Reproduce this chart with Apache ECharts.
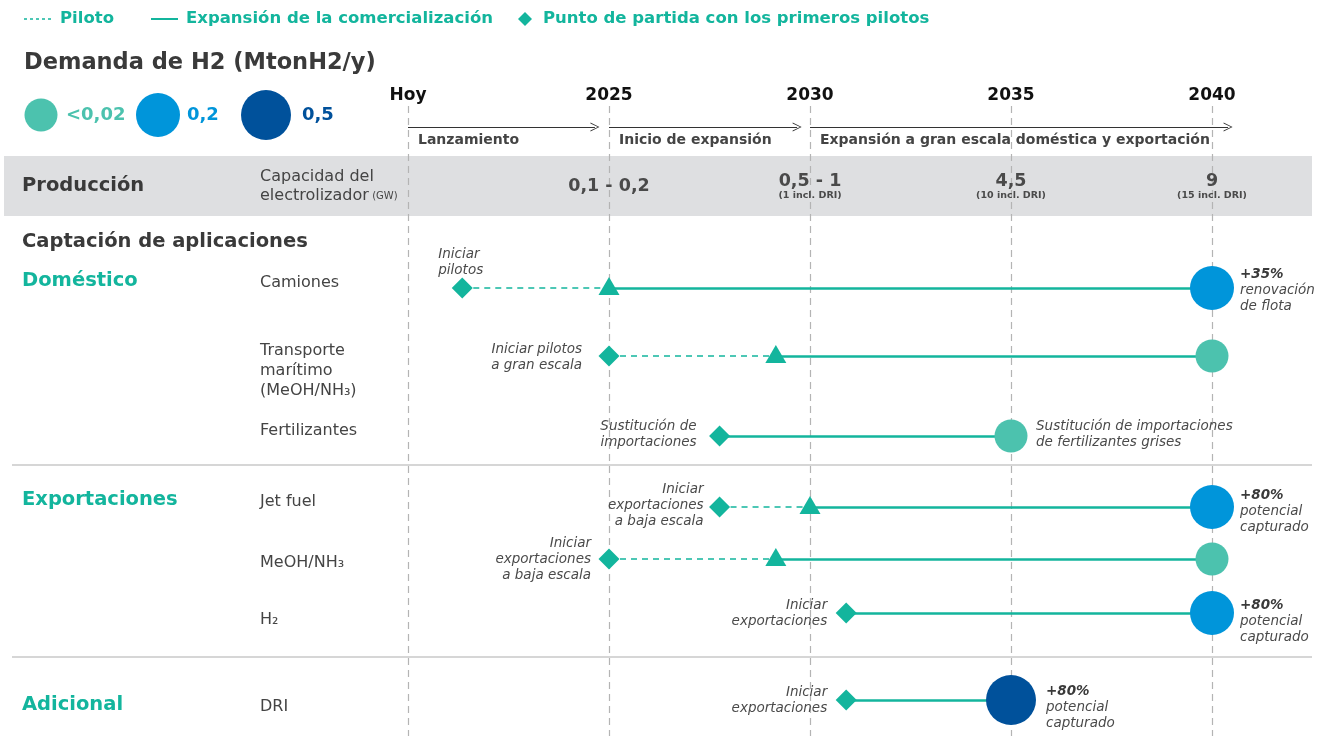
<!DOCTYPE html>
<html>
<head>
<meta charset="utf-8">
<script src="https://cdn.jsdelivr.net/npm/echarts@6/dist/echarts.min.js"></script>
<style>
html, body { margin: 0; padding: 0; background: #fff; }
#chart { width: 1323px; height: 736px; }
</style>
</head>
<body>
<div id="chart"></div>
<script>
// hoja de ruta del H2: filas, años de inicio piloto / expansión / meta y demanda
var rows = ['Camiones', 'Transporte marítimo', 'Fertilizantes', 'Jet fuel', 'MeOH/NH3', 'H2', 'DRI'];
var startYear = [2021.35, 2025, 2027.75, 2027.75, 2025, 2030.9, 2030.9];   // rombo
var scaleYear = [2025, 2029.15, null, 2030, 2029.15, null, null];          // triángulo
var endYear = [2040, 2040, 2035, 2040, 2040, 2040, 2035];                 // burbuja
var demand = [0.2, 0.02, 0.02, 0.2, 0.02, 0.2, 0.5];

var yearTicks = [2020, 2025, 2030, 2035, 2040];
var yearLabels = ['Hoy', '2025', '2030', '2035', '2040'];
var capacity = ['', '0,1 - 0,2', '0,5 - 1', '4,5', '9'];
var capacityNote = ['', '', '(1 incl. DRI)', '(10 incl. DRI)', '(15 incl. DRI)'];

var phaseStart = [2020, 2025, 2030];
var phaseEnd = [2024.65, 2029.68, 2040.4];
var phaseLabels = ['Lanzamiento', 'Inicio de expansión', 'Expansión a gran escala doméstica y exportación'];

var demandLevels = [0.02, 0.2, 0.5];
var demandLabels = ['<0,02', '0,2', '0,5'];

var startNotes = ['Iniciar\npilotos', 'Iniciar pilotos\na gran escala', 'Sustitución de\nimportaciones',
    'Iniciar\nexportaciones\na baja escala', 'Iniciar\nexportaciones\na baja escala',
    'Iniciar\nexportaciones', 'Iniciar\nexportaciones'];
var endNotes = ['{b|+35%}\nrenovación\nde flota', '', 'Sustitución de importaciones\nde fertilizantes grises',
    '{b|+80%}\npotencial\ncapturado', '', '{b|+80%}\npotencial\ncapturado', '{b|+80%}\npotencial\ncapturado'];

// layout (pixeles verticales del lienzo)
var rowY = [288, 356, 436, 507, 559, 613, 700];
var startNoteOff = [[-24, -26, 'left'], [-27, 1, 'right'], [-23, -2, 'right'], [-16, -2, 'right'],
    [-18, 0, 'right'], [-19, 0, 'right'], [-19, 0, 'right']];
var endNoteOff = [[28, 2], [0, 0], [25, -2], [28, 4], [0, 0], [28, 8], [35, 7]];

var TEAL = '#13b59d', LIGHT = '#4cc2ae', BLUE = '#0095da', DARK = '#00519b';
var GREY_TXT = '#444444';
var FONT = "'DejaVu Sans', sans-serif";
var bubbleSize = {0.02: 33, 0.2: 44, 0.5: 50};
var bubbleColor = {0.02: LIGHT, 0.2: BLUE, 0.5: DARK};

var X_MIN = 2020 - 408 / 40.2;
var X_MAX = X_MIN + 1323 / 40.2;

var chart = echarts.init(document.getElementById('chart'));

function $extend(a, b) { for (var k in b) a[k] = b[k]; return a; }
function textSeries(items, style) {
    return {
        type: 'scatter', silent: true, symbolSize: 0, z: 10,
        itemStyle: {opacity: 1},
        data: items,
        label: $extend({show: true, position: 'inside', formatter: '{b}', fontFamily: FONT, opacity: 1}, style)
    };
}

var pilotLines = [], expLines = [], diamonds = [], triangles = [], bubbles = [];
for (var i = 0; i < rows.length; i++) {
    var y = rowY[i];
    if (scaleYear[i] != null) {
        pilotLines.push({coords: [[startYear[i], y], [scaleYear[i], y]]});
        triangles.push([scaleYear[i], y]);
    }
    expLines.push({coords: [[scaleYear[i] != null ? scaleYear[i] : startYear[i], y], [endYear[i], y]]});
    diamonds.push({
        value: [startYear[i], y],
        label: {show: true, formatter: startNotes[i], position: 'inside', align: startNoteOff[i][2],
            offset: [startNoteOff[i][0], startNoteOff[i][1]]}
    });
    bubbles.push({
        value: [endYear[i], y, demand[i]],
        label: {show: !!endNotes[i], formatter: endNotes[i], position: 'inside', align: 'left',
            offset: [endNoteOff[i][0], endNoteOff[i][1]]}
    });
}

var noteLabel = {fontFamily: FONT, fontStyle: 'italic', fontSize: 13.5, color: '#4a4a4a', lineHeight: 16,
    verticalAlign: 'middle',
    rich: {b: {fontFamily: FONT, fontStyle: 'italic', fontWeight: 'bold', fontSize: 13.5, color: '#3a3a3a', lineHeight: 16}}};

var yearItems = [], capItems = [], noteItems = [], phaseItems = [], grid = [], arrows = [];
for (var j = 0; j < yearTicks.length; j++) {
    yearItems.push({name: yearLabels[j], value: [yearTicks[j], 96]});
    if (capacity[j]) capItems.push({name: capacity[j], value: [yearTicks[j], capacityNote[j] ? 181 : 186]});
    if (capacityNote[j]) noteItems.push({name: capacityNote[j], value: [yearTicks[j], 196]});
    grid.push({coords: [[yearTicks[j], 106], [yearTicks[j], 736]]});
}
for (var k = 0; k < phaseStart.length; k++) {
    phaseItems.push({name: phaseLabels[k], value: [phaseStart[k], 140]});
    arrows.push({coords: [[phaseStart[k], 127], [phaseEnd[k], 127]]});
}

var option = {
    backgroundColor: '#ffffff',
    animation: false,
    grid: {left: 0, right: 0, top: 0, bottom: 0},
    xAxis: {type: 'value', min: X_MIN, max: X_MAX, show: false},
    yAxis: {type: 'value', min: 0, max: 736, inverse: true, show: false},
    series: [
        {   // líneas verticales de año
            type: 'lines', coordinateSystem: 'cartesian2d', silent: true, z: 1,
            lineStyle: {color: '#b4b4b4', width: 1.2, type: [7, 5], opacity: 1},
            data: grid
        },
        {   // flechas de fase
            type: 'lines', coordinateSystem: 'cartesian2d', silent: true, z: 3,
            symbol: ['none', 'path://M0,10 L5,0 L10,10 L9,10 L5,1.8 L1,10 Z'], symbolSize: 9,
            lineStyle: {color: '#333333', width: 1, opacity: 1},
            data: arrows
        },
        {   // piloto
            type: 'lines', coordinateSystem: 'cartesian2d', silent: true, z: 3,
            lineStyle: {color: TEAL, width: 1.5, type: [6, 5], opacity: 1},
            data: pilotLines
        },
        {   // expansión
            type: 'lines', coordinateSystem: 'cartesian2d', silent: true, z: 3,
            lineStyle: {color: TEAL, width: 2.5, opacity: 1},
            data: expLines
        },
        {
            type: 'scatter', symbol: 'diamond', symbolSize: 21, z: 5,
            itemStyle: {color: TEAL, opacity: 1},
            label: noteLabel,
            data: diamonds
        },
        {
            type: 'scatter', symbol: 'triangle', symbolSize: [21, 18], symbolOffset: [0, -2], z: 5,
            itemStyle: {color: TEAL, opacity: 1},
            data: triangles
        },
        {
            type: 'scatter', z: 6,
            symbolSize: function (v) { return bubbleSize[v[2]]; },
            itemStyle: {opacity: 1, color: function (p) { return bubbleColor[p.value[2]]; }},
            label: noteLabel,
            data: bubbles
        },
        textSeries(yearItems, {fontSize: 17, fontWeight: 'bold', color: '#111111'}),
        textSeries(capItems, {fontSize: 17.5, fontWeight: 'bold', color: '#4a4a4a'}),
        textSeries(noteItems, {fontSize: 9.5, fontWeight: 'bold', color: '#4a4a4a'}),
        textSeries(phaseItems, {fontSize: 14, fontWeight: 'bold', color: GREY_TXT, align: 'left', offset: [10, 0]})
    ],
    graphic: { elements: [] }
};

var g = option.graphic.elements;
function txt(x, y, text, font, fill, extra) {
    var st = {x: x, y: y, text: text, font: font, fill: fill, textVerticalAlign: 'middle'};
    if (extra) $extend(st, extra);
    g.push({type: 'text', z: 10, silent: true, style: st});
}
// banda gris de producción
g.push({type: 'rect', z: -10, silent: true, shape: {x: 4, y: 156, width: 1308, height: 60}, style: {fill: '#dedfe1'}});
// separadores
g.push({type: 'line', z: -5, silent: true, shape: {x1: 12, y1: 465, x2: 1312, y2: 465}, style: {stroke: '#c8c8c8', lineWidth: 1.5}});
g.push({type: 'line', z: -5, silent: true, shape: {x1: 12, y1: 657, x2: 1312, y2: 657}, style: {stroke: '#c8c8c8', lineWidth: 1.5}});

// leyenda superior
g.push({type: 'line', silent: true, shape: {x1: 24, y1: 19, x2: 53, y2: 19}, style: {stroke: TEAL, lineWidth: 1.5, lineDash: [3, 3]}});
txt(60, 19, 'Piloto', 'bold 16.5px ' + FONT, TEAL);
g.push({type: 'line', silent: true, shape: {x1: 151, y1: 19, x2: 178, y2: 19}, style: {stroke: TEAL, lineWidth: 2}});
txt(186, 19, 'Expansión de la comercialización', 'bold 16.5px ' + FONT, TEAL);
g.push({type: 'polygon', silent: true, shape: {points: [[525, 12], [532, 19], [525, 26], [518, 19]]}, style: {fill: TEAL}});
txt(543, 19, 'Punto de partida con los primeros pilotos', 'bold 16.5px ' + FONT, TEAL);

// leyenda de demanda
txt(24, 63, 'Demanda de H2 (MtonH2/y)', 'bold 22.5px ' + FONT, '#3a3a3a');
var legCx = [41, 158, 266], legTx = [66, 187, 302];
for (var d = 0; d < demandLevels.length; d++) {
    var lv = demandLevels[d];
    g.push({type: 'circle', silent: true, shape: {cx: legCx[d], cy: 115, r: bubbleSize[lv] / 2}, style: {fill: bubbleColor[lv]}});
    txt(legTx[d], 115, demandLabels[d], 'bold 18px ' + FONT, bubbleColor[lv]);
}

// etiquetas a la izquierda
txt(22, 186, 'Producción', 'bold 19.5px ' + FONT, '#3a3a3a');
txt(260, 177, 'Capacidad del', '16px ' + FONT, GREY_TXT);
g.push({type: 'text', z: 10, silent: true, style: {x: 260, y: 196, text: '{a|electrolizador} {s|(GW)}',
    textVerticalAlign: 'middle',
    rich: {a: {font: '16px ' + FONT, fill: GREY_TXT}, s: {font: '10px ' + FONT, fill: GREY_TXT}}}});
txt(22, 242, 'Captación de aplicaciones', 'bold 19.5px ' + FONT, '#3a3a3a');
txt(22, 281, 'Doméstico', 'bold 19.5px ' + FONT, TEAL);
txt(22, 500, 'Exportaciones', 'bold 19.5px ' + FONT, TEAL);
txt(22, 705, 'Adicional', 'bold 19.5px ' + FONT, TEAL);

var rowText = ['Camiones', 'Transporte\nmarítimo\n(MeOH/NH₃)', 'Fertilizantes', 'Jet fuel', 'MeOH/NH₃', 'H₂', 'DRI'];
var rowTextY = [283, 371, 431, 502, 563, 620, 707];
for (var r = 0; r < rowText.length; r++) {
    txt(260, rowTextY[r], rowText[r], '16px ' + FONT, GREY_TXT, {lineHeight: 20});
}

chart.setOption(option);
</script>
</body>
</html>
